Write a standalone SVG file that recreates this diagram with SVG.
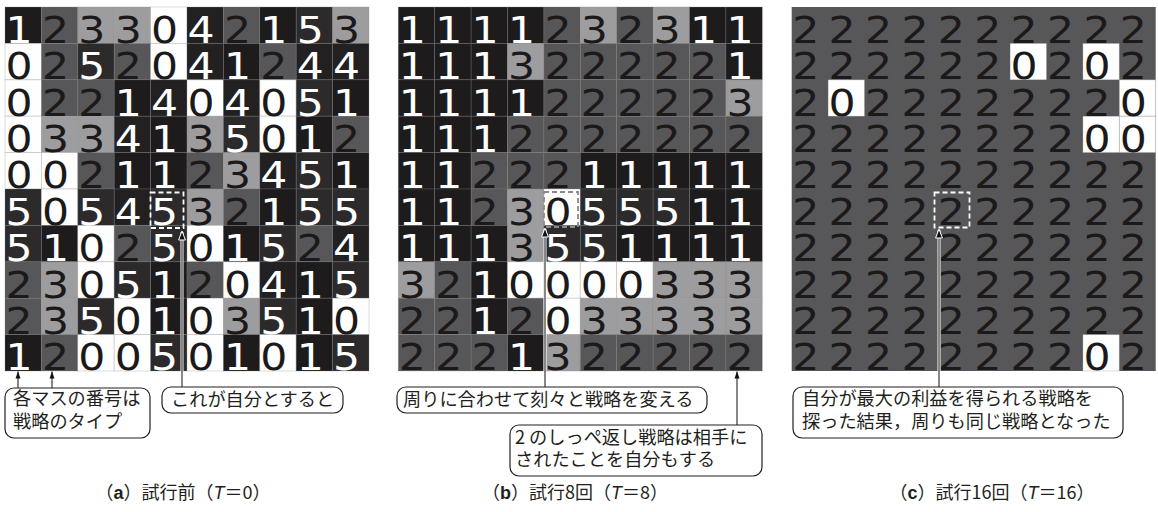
<svg xmlns="http://www.w3.org/2000/svg" width="1158" height="512" viewBox="0 0 1158 512">
<style>
.c0{fill:#fefefe}.c1{fill:#1d1b1c}.c2{fill:#575658}.c3{fill:#9d9c9e}.c4{fill:#222021}.c5{fill:#2c2a2b}
.cells rect{width:36.4px;height:36.4px;stroke:#808080;stroke-opacity:.35;stroke-width:.8}
.dg{font-family:"DejaVu Sans",sans-serif;font-size:37px;fill:#1b1919}
.w{fill:#ffffff}
.box{fill:#fff;stroke:#231f20;stroke-width:1.2}
.lbl{font-family:"Noto Sans CJK JP",sans-serif;font-size:18.2px;fill:#231f20}
.cap{font-family:"Noto Sans CJK JP",sans-serif;font-size:18px;fill:#231f20;text-anchor:middle}
.lt{font-family:"Liberation Sans",sans-serif;font-weight:bold}
.it{font-family:"Liberation Sans",sans-serif;font-style:italic}
.halo{stroke:#fff;stroke-width:3}
.ln{stroke:#111;stroke-width:1;fill:none}
.dash{fill:none;stroke-width:1.8;stroke-dasharray:5 3}
</style>
<defs>
<marker id="ahw" markerUnits="userSpaceOnUse" viewBox="-10 -5 11 10" refX="0" refY="0" markerWidth="11" markerHeight="10" orient="auto" overflow="visible"><path d="M0,0 L-9,-3.4 L-9,3.4 Z" fill="#111" stroke="#fff" stroke-width="1"/></marker>
<marker id="ah" markerUnits="userSpaceOnUse" viewBox="-8 -4 9 8" refX="0" refY="0" markerWidth="9" markerHeight="8" orient="auto" overflow="visible"><path d="M0,0 L-7,-2.5 L-7,2.5 Z" fill="#111"/></marker>
</defs>

<g id="panel-a">
<g class="cells" transform="translate(5,7)">
<rect x="0" y="0" class="c1"/><rect x="36.4" y="0" class="c2"/><rect x="72.8" y="0" class="c3"/><rect x="109.2" y="0" class="c3"/><rect x="145.6" y="0" class="c0"/><rect x="182" y="0" class="c4"/><rect x="218.4" y="0" class="c2"/><rect x="254.8" y="0" class="c1"/><rect x="291.2" y="0" class="c5"/><rect x="327.6" y="0" class="c3"/>
<rect x="0" y="36.4" class="c0"/><rect x="36.4" y="36.4" class="c2"/><rect x="72.8" y="36.4" class="c5"/><rect x="109.2" y="36.4" class="c2"/><rect x="145.6" y="36.4" class="c0"/><rect x="182" y="36.4" class="c4"/><rect x="218.4" y="36.4" class="c1"/><rect x="254.8" y="36.4" class="c2"/><rect x="291.2" y="36.4" class="c4"/><rect x="327.6" y="36.4" class="c4"/>
<rect x="0" y="72.8" class="c0"/><rect x="36.4" y="72.8" class="c2"/><rect x="72.8" y="72.8" class="c2"/><rect x="109.2" y="72.8" class="c1"/><rect x="145.6" y="72.8" class="c4"/><rect x="182" y="72.8" class="c0"/><rect x="218.4" y="72.8" class="c4"/><rect x="254.8" y="72.8" class="c0"/><rect x="291.2" y="72.8" class="c5"/><rect x="327.6" y="72.8" class="c1"/>
<rect x="0" y="109.2" class="c0"/><rect x="36.4" y="109.2" class="c3"/><rect x="72.8" y="109.2" class="c3"/><rect x="109.2" y="109.2" class="c4"/><rect x="145.6" y="109.2" class="c1"/><rect x="182" y="109.2" class="c3"/><rect x="218.4" y="109.2" class="c5"/><rect x="254.8" y="109.2" class="c0"/><rect x="291.2" y="109.2" class="c1"/><rect x="327.6" y="109.2" class="c2"/>
<rect x="0" y="145.6" class="c0"/><rect x="36.4" y="145.6" class="c0"/><rect x="72.8" y="145.6" class="c2"/><rect x="109.2" y="145.6" class="c1"/><rect x="145.6" y="145.6" class="c1"/><rect x="182" y="145.6" class="c2"/><rect x="218.4" y="145.6" class="c3"/><rect x="254.8" y="145.6" class="c4"/><rect x="291.2" y="145.6" class="c5"/><rect x="327.6" y="145.6" class="c1"/>
<rect x="0" y="182" class="c5"/><rect x="36.4" y="182" class="c0"/><rect x="72.8" y="182" class="c5"/><rect x="109.2" y="182" class="c4"/><rect x="145.6" y="182" class="c5"/><rect x="182" y="182" class="c3"/><rect x="218.4" y="182" class="c2"/><rect x="254.8" y="182" class="c1"/><rect x="291.2" y="182" class="c5"/><rect x="327.6" y="182" class="c5"/>
<rect x="0" y="218.4" class="c5"/><rect x="36.4" y="218.4" class="c1"/><rect x="72.8" y="218.4" class="c0"/><rect x="109.2" y="218.4" class="c2"/><rect x="145.6" y="218.4" class="c5"/><rect x="182" y="218.4" class="c0"/><rect x="218.4" y="218.4" class="c1"/><rect x="254.8" y="218.4" class="c5"/><rect x="291.2" y="218.4" class="c2"/><rect x="327.6" y="218.4" class="c4"/>
<rect x="0" y="254.8" class="c2"/><rect x="36.4" y="254.8" class="c3"/><rect x="72.8" y="254.8" class="c0"/><rect x="109.2" y="254.8" class="c5"/><rect x="145.6" y="254.8" class="c1"/><rect x="182" y="254.8" class="c2"/><rect x="218.4" y="254.8" class="c0"/><rect x="254.8" y="254.8" class="c4"/><rect x="291.2" y="254.8" class="c1"/><rect x="327.6" y="254.8" class="c5"/>
<rect x="0" y="291.2" class="c2"/><rect x="36.4" y="291.2" class="c3"/><rect x="72.8" y="291.2" class="c5"/><rect x="109.2" y="291.2" class="c0"/><rect x="145.6" y="291.2" class="c1"/><rect x="182" y="291.2" class="c0"/><rect x="218.4" y="291.2" class="c3"/><rect x="254.8" y="291.2" class="c5"/><rect x="291.2" y="291.2" class="c1"/><rect x="327.6" y="291.2" class="c0"/>
<rect x="0" y="327.6" class="c1"/><rect x="36.4" y="327.6" class="c2"/><rect x="72.8" y="327.6" class="c0"/><rect x="109.2" y="327.6" class="c0"/><rect x="145.6" y="327.6" class="c5"/><rect x="182" y="327.6" class="c0"/><rect x="218.4" y="327.6" class="c1"/><rect x="254.8" y="327.6" class="c0"/><rect x="291.2" y="327.6" class="c1"/><rect x="327.6" y="327.6" class="c5"/>
</g>
<g class="dg" transform="translate(5.5,7) scale(1.15,1)">
<text>
<tspan y="35.9"><tspan x="0" class="w">1</tspan><tspan x="31.65">2</tspan><tspan x="63.3">3</tspan><tspan x="94.96">3</tspan><tspan x="126.61">0</tspan><tspan x="158.26" class="w">4</tspan><tspan x="189.91">2</tspan><tspan x="221.57" class="w">1</tspan><tspan x="253.22" class="w">5</tspan><tspan x="284.87">3</tspan></tspan>
<tspan y="72.3"><tspan x="0">0</tspan><tspan x="31.65">2</tspan><tspan x="63.3" class="w">5</tspan><tspan x="94.96">2</tspan><tspan x="126.61">0</tspan><tspan x="158.26" class="w">4</tspan><tspan x="189.91" class="w">1</tspan><tspan x="221.57">2</tspan><tspan x="253.22" class="w">4</tspan><tspan x="284.87" class="w">4</tspan></tspan>
<tspan y="108.7"><tspan x="0">0</tspan><tspan x="31.65">2</tspan><tspan x="63.3">2</tspan><tspan x="94.96" class="w">1</tspan><tspan x="126.61" class="w">4</tspan><tspan x="158.26">0</tspan><tspan x="189.91" class="w">4</tspan><tspan x="221.57">0</tspan><tspan x="253.22" class="w">5</tspan><tspan x="284.87" class="w">1</tspan></tspan>
<tspan y="145.1"><tspan x="0">0</tspan><tspan x="31.65">3</tspan><tspan x="63.3">3</tspan><tspan x="94.96" class="w">4</tspan><tspan x="126.61" class="w">1</tspan><tspan x="158.26">3</tspan><tspan x="189.91" class="w">5</tspan><tspan x="221.57">0</tspan><tspan x="253.22" class="w">1</tspan><tspan x="284.87">2</tspan></tspan>
<tspan y="181.5"><tspan x="0">0</tspan><tspan x="31.65">0</tspan><tspan x="63.3">2</tspan><tspan x="94.96" class="w">1</tspan><tspan x="126.61" class="w">1</tspan><tspan x="158.26">2</tspan><tspan x="189.91">3</tspan><tspan x="221.57" class="w">4</tspan><tspan x="253.22" class="w">5</tspan><tspan x="284.87" class="w">1</tspan></tspan>
<tspan y="217.9"><tspan x="0" class="w">5</tspan><tspan x="31.65">0</tspan><tspan x="63.3" class="w">5</tspan><tspan x="94.96" class="w">4</tspan><tspan x="126.61" class="w">5</tspan><tspan x="158.26">3</tspan><tspan x="189.91">2</tspan><tspan x="221.57" class="w">1</tspan><tspan x="253.22" class="w">5</tspan><tspan x="284.87" class="w">5</tspan></tspan>
<tspan y="254.3"><tspan x="0" class="w">5</tspan><tspan x="31.65" class="w">1</tspan><tspan x="63.3">0</tspan><tspan x="94.96">2</tspan><tspan x="126.61" class="w">5</tspan><tspan x="158.26">0</tspan><tspan x="189.91" class="w">1</tspan><tspan x="221.57" class="w">5</tspan><tspan x="253.22">2</tspan><tspan x="284.87" class="w">4</tspan></tspan>
<tspan y="290.7"><tspan x="0">2</tspan><tspan x="31.65">3</tspan><tspan x="63.3">0</tspan><tspan x="94.96" class="w">5</tspan><tspan x="126.61" class="w">1</tspan><tspan x="158.26">2</tspan><tspan x="189.91">0</tspan><tspan x="221.57" class="w">4</tspan><tspan x="253.22" class="w">1</tspan><tspan x="284.87" class="w">5</tspan></tspan>
<tspan y="327.1"><tspan x="0">2</tspan><tspan x="31.65">3</tspan><tspan x="63.3" class="w">5</tspan><tspan x="94.96">0</tspan><tspan x="126.61" class="w">1</tspan><tspan x="158.26">0</tspan><tspan x="189.91">3</tspan><tspan x="221.57" class="w">5</tspan><tspan x="253.22" class="w">1</tspan><tspan x="284.87">0</tspan></tspan>
<tspan y="363.5"><tspan x="0" class="w">1</tspan><tspan x="31.65">2</tspan><tspan x="63.3">0</tspan><tspan x="94.96">0</tspan><tspan x="126.61" class="w">5</tspan><tspan x="158.26">0</tspan><tspan x="189.91" class="w">1</tspan><tspan x="221.57">0</tspan><tspan x="253.22" class="w">1</tspan><tspan x="284.87" class="w">5</tspan></tspan>
</text>
</g>
<rect class="dash" x="150.5" y="192.5" width="33" height="35.5" stroke="#ffffff"/>
</g>

<g id="panel-b">
<g class="cells" transform="translate(398.3,7)">
<rect x="0" y="0" class="c1"/><rect x="36.4" y="0" class="c1"/><rect x="72.8" y="0" class="c1"/><rect x="109.2" y="0" class="c1"/><rect x="145.6" y="0" class="c2"/><rect x="182" y="0" class="c3"/><rect x="218.4" y="0" class="c2"/><rect x="254.8" y="0" class="c3"/><rect x="291.2" y="0" class="c1"/><rect x="327.6" y="0" class="c1"/>
<rect x="0" y="36.4" class="c1"/><rect x="36.4" y="36.4" class="c1"/><rect x="72.8" y="36.4" class="c1"/><rect x="109.2" y="36.4" class="c3"/><rect x="145.6" y="36.4" class="c2"/><rect x="182" y="36.4" class="c2"/><rect x="218.4" y="36.4" class="c2"/><rect x="254.8" y="36.4" class="c2"/><rect x="291.2" y="36.4" class="c2"/><rect x="327.6" y="36.4" class="c1"/>
<rect x="0" y="72.8" class="c1"/><rect x="36.4" y="72.8" class="c1"/><rect x="72.8" y="72.8" class="c1"/><rect x="109.2" y="72.8" class="c1"/><rect x="145.6" y="72.8" class="c2"/><rect x="182" y="72.8" class="c2"/><rect x="218.4" y="72.8" class="c2"/><rect x="254.8" y="72.8" class="c2"/><rect x="291.2" y="72.8" class="c2"/><rect x="327.6" y="72.8" class="c3"/>
<rect x="0" y="109.2" class="c1"/><rect x="36.4" y="109.2" class="c1"/><rect x="72.8" y="109.2" class="c1"/><rect x="109.2" y="109.2" class="c2"/><rect x="145.6" y="109.2" class="c2"/><rect x="182" y="109.2" class="c2"/><rect x="218.4" y="109.2" class="c2"/><rect x="254.8" y="109.2" class="c2"/><rect x="291.2" y="109.2" class="c2"/><rect x="327.6" y="109.2" class="c2"/>
<rect x="0" y="145.6" class="c1"/><rect x="36.4" y="145.6" class="c1"/><rect x="72.8" y="145.6" class="c2"/><rect x="109.2" y="145.6" class="c2"/><rect x="145.6" y="145.6" class="c2"/><rect x="182" y="145.6" class="c1"/><rect x="218.4" y="145.6" class="c1"/><rect x="254.8" y="145.6" class="c1"/><rect x="291.2" y="145.6" class="c1"/><rect x="327.6" y="145.6" class="c1"/>
<rect x="0" y="182" class="c1"/><rect x="36.4" y="182" class="c1"/><rect x="72.8" y="182" class="c2"/><rect x="109.2" y="182" class="c3"/><rect x="145.6" y="182" class="c0"/><rect x="182" y="182" class="c5"/><rect x="218.4" y="182" class="c5"/><rect x="254.8" y="182" class="c5"/><rect x="291.2" y="182" class="c1"/><rect x="327.6" y="182" class="c1"/>
<rect x="0" y="218.4" class="c1"/><rect x="36.4" y="218.4" class="c1"/><rect x="72.8" y="218.4" class="c1"/><rect x="109.2" y="218.4" class="c3"/><rect x="145.6" y="218.4" class="c5"/><rect x="182" y="218.4" class="c5"/><rect x="218.4" y="218.4" class="c1"/><rect x="254.8" y="218.4" class="c1"/><rect x="291.2" y="218.4" class="c1"/><rect x="327.6" y="218.4" class="c1"/>
<rect x="0" y="254.8" class="c3"/><rect x="36.4" y="254.8" class="c2"/><rect x="72.8" y="254.8" class="c1"/><rect x="109.2" y="254.8" class="c0"/><rect x="145.6" y="254.8" class="c0"/><rect x="182" y="254.8" class="c0"/><rect x="218.4" y="254.8" class="c0"/><rect x="254.8" y="254.8" class="c3"/><rect x="291.2" y="254.8" class="c3"/><rect x="327.6" y="254.8" class="c3"/>
<rect x="0" y="291.2" class="c2"/><rect x="36.4" y="291.2" class="c2"/><rect x="72.8" y="291.2" class="c1"/><rect x="109.2" y="291.2" class="c2"/><rect x="145.6" y="291.2" class="c0"/><rect x="182" y="291.2" class="c3"/><rect x="218.4" y="291.2" class="c3"/><rect x="254.8" y="291.2" class="c3"/><rect x="291.2" y="291.2" class="c3"/><rect x="327.6" y="291.2" class="c3"/>
<rect x="0" y="327.6" class="c2"/><rect x="36.4" y="327.6" class="c2"/><rect x="72.8" y="327.6" class="c2"/><rect x="109.2" y="327.6" class="c1"/><rect x="145.6" y="327.6" class="c3"/><rect x="182" y="327.6" class="c2"/><rect x="218.4" y="327.6" class="c2"/><rect x="254.8" y="327.6" class="c2"/><rect x="291.2" y="327.6" class="c2"/><rect x="327.6" y="327.6" class="c2"/>
</g>
<g class="dg" transform="translate(398.8,7) scale(1.15,1)">
<text>
<tspan y="35.9"><tspan x="0" class="w">1</tspan><tspan x="31.65" class="w">1</tspan><tspan x="63.3" class="w">1</tspan><tspan x="94.96" class="w">1</tspan><tspan x="126.61">2</tspan><tspan x="158.26">3</tspan><tspan x="189.91">2</tspan><tspan x="221.57">3</tspan><tspan x="253.22" class="w">1</tspan><tspan x="284.87" class="w">1</tspan></tspan>
<tspan y="72.3"><tspan x="0" class="w">1</tspan><tspan x="31.65" class="w">1</tspan><tspan x="63.3" class="w">1</tspan><tspan x="94.96">3</tspan><tspan x="126.61">2</tspan><tspan x="158.26">2</tspan><tspan x="189.91">2</tspan><tspan x="221.57">2</tspan><tspan x="253.22">2</tspan><tspan x="284.87" class="w">1</tspan></tspan>
<tspan y="108.7"><tspan x="0" class="w">1</tspan><tspan x="31.65" class="w">1</tspan><tspan x="63.3" class="w">1</tspan><tspan x="94.96" class="w">1</tspan><tspan x="126.61">2</tspan><tspan x="158.26">2</tspan><tspan x="189.91">2</tspan><tspan x="221.57">2</tspan><tspan x="253.22">2</tspan><tspan x="284.87">3</tspan></tspan>
<tspan y="145.1"><tspan x="0" class="w">1</tspan><tspan x="31.65" class="w">1</tspan><tspan x="63.3" class="w">1</tspan><tspan x="94.96">2</tspan><tspan x="126.61">2</tspan><tspan x="158.26">2</tspan><tspan x="189.91">2</tspan><tspan x="221.57">2</tspan><tspan x="253.22">2</tspan><tspan x="284.87">2</tspan></tspan>
<tspan y="181.5"><tspan x="0" class="w">1</tspan><tspan x="31.65" class="w">1</tspan><tspan x="63.3">2</tspan><tspan x="94.96">2</tspan><tspan x="126.61">2</tspan><tspan x="158.26" class="w">1</tspan><tspan x="189.91" class="w">1</tspan><tspan x="221.57" class="w">1</tspan><tspan x="253.22" class="w">1</tspan><tspan x="284.87" class="w">1</tspan></tspan>
<tspan y="217.9"><tspan x="0" class="w">1</tspan><tspan x="31.65" class="w">1</tspan><tspan x="63.3">2</tspan><tspan x="94.96">3</tspan><tspan x="126.61">0</tspan><tspan x="158.26" class="w">5</tspan><tspan x="189.91" class="w">5</tspan><tspan x="221.57" class="w">5</tspan><tspan x="253.22" class="w">1</tspan><tspan x="284.87" class="w">1</tspan></tspan>
<tspan y="254.3"><tspan x="0" class="w">1</tspan><tspan x="31.65" class="w">1</tspan><tspan x="63.3" class="w">1</tspan><tspan x="94.96">3</tspan><tspan x="126.61" class="w">5</tspan><tspan x="158.26" class="w">5</tspan><tspan x="189.91" class="w">1</tspan><tspan x="221.57" class="w">1</tspan><tspan x="253.22" class="w">1</tspan><tspan x="284.87" class="w">1</tspan></tspan>
<tspan y="290.7"><tspan x="0">3</tspan><tspan x="31.65">2</tspan><tspan x="63.3" class="w">1</tspan><tspan x="94.96">0</tspan><tspan x="126.61">0</tspan><tspan x="158.26">0</tspan><tspan x="189.91">0</tspan><tspan x="221.57">3</tspan><tspan x="253.22">3</tspan><tspan x="284.87">3</tspan></tspan>
<tspan y="327.1"><tspan x="0">2</tspan><tspan x="31.65">2</tspan><tspan x="63.3" class="w">1</tspan><tspan x="94.96">2</tspan><tspan x="126.61">0</tspan><tspan x="158.26">3</tspan><tspan x="189.91">3</tspan><tspan x="221.57">3</tspan><tspan x="253.22">3</tspan><tspan x="284.87">3</tspan></tspan>
<tspan y="363.5"><tspan x="0">2</tspan><tspan x="31.65">2</tspan><tspan x="63.3">2</tspan><tspan x="94.96" class="w">1</tspan><tspan x="126.61">3</tspan><tspan x="158.26">2</tspan><tspan x="189.91">2</tspan><tspan x="221.57">2</tspan><tspan x="253.22">2</tspan><tspan x="284.87">2</tspan></tspan>
</text>
</g>
<rect class="dash" x="544" y="192" width="34" height="35" stroke="#8a8a8a"/>
</g>

<g id="panel-c">
<g class="cells" transform="translate(791.7,7)">
<rect x="0" y="0" class="c2" style="width:364px;height:364px;stroke:none"/>
<rect x="218.4" y="36.4" class="c0"/><rect x="291.2" y="36.4" class="c0"/>
<rect x="36.4" y="72.8" class="c0"/><rect x="327.6" y="72.8" class="c0"/>
<rect x="291.2" y="109.2" class="c0"/><rect x="327.6" y="109.2" class="c0"/>
<rect x="291.2" y="327.6" class="c0"/>
</g>
<g class="dg" transform="translate(792.2,7) scale(1.15,1)">
<text>
<tspan y="35.9"><tspan x="0">2</tspan><tspan x="31.65">2</tspan><tspan x="63.3">2</tspan><tspan x="94.96">2</tspan><tspan x="126.61">2</tspan><tspan x="158.26">2</tspan><tspan x="189.91">2</tspan><tspan x="221.57">2</tspan><tspan x="253.22">2</tspan><tspan x="284.87">2</tspan></tspan>
<tspan y="72.3"><tspan x="0">2</tspan><tspan x="31.65">2</tspan><tspan x="63.3">2</tspan><tspan x="94.96">2</tspan><tspan x="126.61">2</tspan><tspan x="158.26">2</tspan><tspan x="189.91">0</tspan><tspan x="221.57">2</tspan><tspan x="253.22">0</tspan><tspan x="284.87">2</tspan></tspan>
<tspan y="108.7"><tspan x="0">2</tspan><tspan x="31.65">0</tspan><tspan x="63.3">2</tspan><tspan x="94.96">2</tspan><tspan x="126.61">2</tspan><tspan x="158.26">2</tspan><tspan x="189.91">2</tspan><tspan x="221.57">2</tspan><tspan x="253.22">2</tspan><tspan x="284.87">0</tspan></tspan>
<tspan y="145.1"><tspan x="0">2</tspan><tspan x="31.65">2</tspan><tspan x="63.3">2</tspan><tspan x="94.96">2</tspan><tspan x="126.61">2</tspan><tspan x="158.26">2</tspan><tspan x="189.91">2</tspan><tspan x="221.57">2</tspan><tspan x="253.22">0</tspan><tspan x="284.87">0</tspan></tspan>
<tspan y="181.5"><tspan x="0">2</tspan><tspan x="31.65">2</tspan><tspan x="63.3">2</tspan><tspan x="94.96">2</tspan><tspan x="126.61">2</tspan><tspan x="158.26">2</tspan><tspan x="189.91">2</tspan><tspan x="221.57">2</tspan><tspan x="253.22">2</tspan><tspan x="284.87">2</tspan></tspan>
<tspan y="217.9"><tspan x="0">2</tspan><tspan x="31.65">2</tspan><tspan x="63.3">2</tspan><tspan x="94.96">2</tspan><tspan x="126.61">2</tspan><tspan x="158.26">2</tspan><tspan x="189.91">2</tspan><tspan x="221.57">2</tspan><tspan x="253.22">2</tspan><tspan x="284.87">2</tspan></tspan>
<tspan y="254.3"><tspan x="0">2</tspan><tspan x="31.65">2</tspan><tspan x="63.3">2</tspan><tspan x="94.96">2</tspan><tspan x="126.61">2</tspan><tspan x="158.26">2</tspan><tspan x="189.91">2</tspan><tspan x="221.57">2</tspan><tspan x="253.22">2</tspan><tspan x="284.87">2</tspan></tspan>
<tspan y="290.7"><tspan x="0">2</tspan><tspan x="31.65">2</tspan><tspan x="63.3">2</tspan><tspan x="94.96">2</tspan><tspan x="126.61">2</tspan><tspan x="158.26">2</tspan><tspan x="189.91">2</tspan><tspan x="221.57">2</tspan><tspan x="253.22">2</tspan><tspan x="284.87">2</tspan></tspan>
<tspan y="327.1"><tspan x="0">2</tspan><tspan x="31.65">2</tspan><tspan x="63.3">2</tspan><tspan x="94.96">2</tspan><tspan x="126.61">2</tspan><tspan x="158.26">2</tspan><tspan x="189.91">2</tspan><tspan x="221.57">2</tspan><tspan x="253.22">2</tspan><tspan x="284.87">2</tspan></tspan>
<tspan y="363.5"><tspan x="0">2</tspan><tspan x="31.65">2</tspan><tspan x="63.3">2</tspan><tspan x="94.96">2</tspan><tspan x="126.61">2</tspan><tspan x="158.26">2</tspan><tspan x="189.91">2</tspan><tspan x="221.57">2</tspan><tspan x="253.22">0</tspan><tspan x="284.87">2</tspan></tspan>
</text>
</g>
<rect class="dash" x="934.5" y="192.5" width="35" height="35" stroke="#ffffff"/>
</g>

<g id="connectors">
<line class="halo" x1="182" y1="371" x2="182" y2="232"/>
<line class="ln" x1="182" y1="387" x2="182" y2="231" marker-end="url(#ahw)"/>
<line class="halo" x1="545" y1="371" x2="545" y2="229"/>
<line class="ln" x1="545" y1="387" x2="545" y2="228" marker-end="url(#ahw)"/>
<line class="halo" x1="939" y1="371" x2="939" y2="230"/>
<line class="ln" x1="939" y1="387" x2="939" y2="229" marker-end="url(#ahw)"/>
<line class="ln" x1="18" y1="388" x2="18" y2="371.5" marker-end="url(#ah)"/>
<line class="ln" x1="52" y1="388" x2="52" y2="371.5" marker-end="url(#ah)"/>
<line class="ln" x1="737" y1="425" x2="737" y2="371.5" marker-end="url(#ah)"/>
</g>

<g id="note-a1">
<rect class="box" x="5" y="388" width="145" height="50" rx="9"/>
<text class="lbl"><tspan x="13" y="405">各マスの番号は</tspan><tspan x="13" y="427.5">戦略のタイプ</tspan></text>
</g>
<g id="note-a2">
<rect class="box" x="162" y="387" width="181" height="26" rx="9"/>
<text class="lbl" x="171" y="406">これが自分とすると</text>
</g>
<g id="note-b1">
<rect class="box" x="397" y="387" width="310" height="26" rx="9"/>
<text class="lbl" x="403" y="406">周りに合わせて刻々と戦略を変える</text>
</g>
<g id="note-b2">
<rect class="box" x="510" y="425" width="252" height="51" rx="9"/>
<text class="lbl"><tspan x="515" y="443.5">2</tspan><tspan dx="4">のしっぺ返し戦略は相手に</tspan><tspan x="515" y="466">されたことを自分もする</tspan></text>
</g>
<g id="note-c">
<rect class="box" x="793" y="387" width="330" height="51" rx="9"/>
<text class="lbl"><tspan x="802" y="405">自分が最大の利益を得られる戦略を</tspan><tspan x="802" y="427.5">探った結果，周りも同じ戦略となった</tspan></text>
</g>

<g id="captions">
<text class="cap" x="183" y="499">（<tspan class="lt">a</tspan>）試行前（<tspan class="it">T</tspan>＝0）</text>
<text class="cap" x="575" y="499">（<tspan class="lt">b</tspan>）試行8回（<tspan class="it">T</tspan>＝8）</text>
<text class="cap" x="992" y="499">（<tspan class="lt">c</tspan>）試行16回（<tspan class="it">T</tspan>＝16）</text>
</g>
</svg>
